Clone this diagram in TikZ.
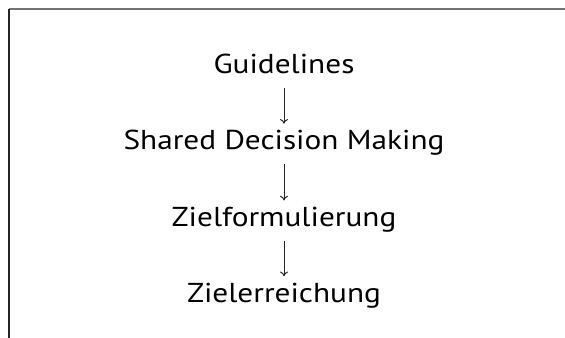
\documentclass[tikz,border=0pt]{standalone}
\usepackage{fontspec}
\setmainfont{PT Sans}[FakeStretch=1.145]
\usetikzlibrary{arrows.meta}
\begin{document}
\begin{tikzpicture}[x=0.75pt, y=-0.75pt,
    stage/.style={anchor=base, inner sep=0pt, text height=14.3pt, text depth=0pt,
        font=\fontsize{20.5pt}{24pt}\selectfont},
    flow/.style={-{To[length=3.5pt, width=6pt]}, line width=0.75pt, black!85,
        shorten <=10.5pt, shorten >=5.2pt}]
    \useasboundingbox (0, 0) rectangle (565, 338);

    % Frame
    \draw[line width=1.2pt, black!55] (9, 9) -- (565, 9);
    \draw[line width=1.2pt, black!85] (9, 9) -- (9, 338);

    % Nodes
    \node[stage] (G) at (284, 73.5) {Guidelines};
    \node[stage] (S) at (284, 150) {Shared Decision Making};
    \node[stage] (F) at (284, 226.7) {Zielformulierung};
    \node[stage] (E) at (284, 302.5) {Zielerreichung};

    % Arrows
    \draw[flow] (G.south) -- (S.north);
    \draw[flow] (S.south) -- (F.north);
    \draw[flow] (F.south) -- (E.north);
\end{tikzpicture}
\end{document}
